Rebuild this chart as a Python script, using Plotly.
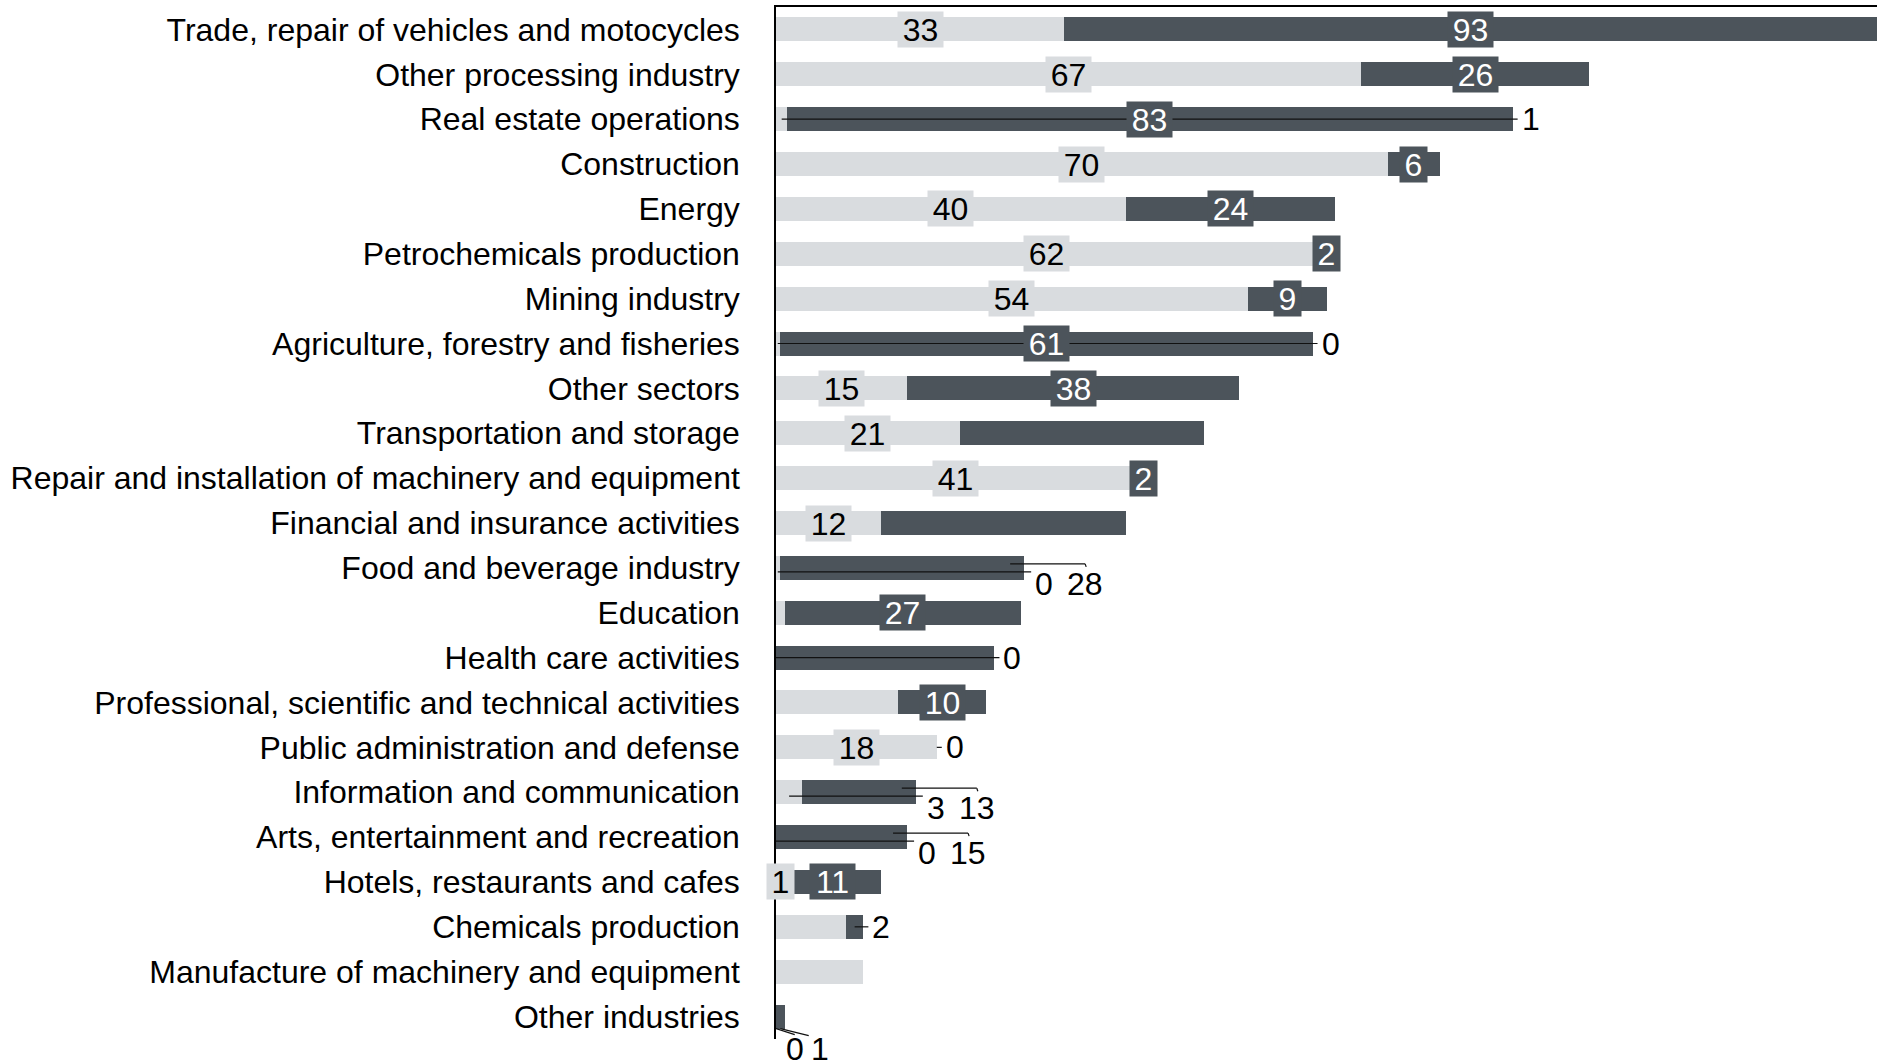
import plotly.graph_objects as go

# sectors, top to bottom
categories = [
    "Trade, repair of vehicles and motocycles",
    "Other processing industry",
    "Real estate operations",
    "Construction",
    "Energy",
    "Petrochemicals production",
    "Mining industry",
    "Agriculture, forestry and fisheries",
    "Other sectors",
    "Transportation and storage",
    "Repair and installation of machinery and equipment",
    "Financial and insurance activities",
    "Food and beverage industry",
    "Education",
    "Health care activities",
    "Professional, scientific and technical activities",
    "Public administration and defense",
    "Information and communication",
    "Arts, entertainment and recreation",
    "Hotels, restaurants and cafes",
    "Chemicals production",
    "Manufacture of machinery and equipment",
    "Other industries",
]
# light grey segment
light = [33, 67, 1.3, 70, 40, 62, 54, 0.4, 15, 21, 41, 12, 0.4, 1, 0, 14, 18.4, 3, 0, 1, 8, 10, 0]
# dark grey segment
dark = [93, 26, 83, 6, 24, 2, 9, 61, 38, 28, 2, 28, 28, 27, 25, 10, 0, 13, 15, 11, 2, 0, 1]

LIGHT = "#d9dcdf"
DARK = "#4c545b"
FONT = "Liberation Sans, Arial, sans-serif"
FS = 32

W, H = 1877, 1064
ML, MR, MT, MB = 776, 0, 7, 25
XMAX = 126
ux = XMAX / (W - ML - MR)              # x data units per pixel
uy = len(categories) / (H - MT - MB)   # category units per pixel

fig = go.Figure()
fig.add_trace(go.Bar(y=categories, x=light, orientation="h", width=0.535,
                     marker=dict(color=LIGHT, line_width=0), hoverinfo="x+y"))
fig.add_trace(go.Bar(y=categories, x=dark, orientation="h", width=0.535,
                     marker=dict(color=DARK, line_width=0), hoverinfo="x+y"))

# which labels go where
in_light = [0, 1, 3, 4, 5, 6, 8, 9, 10, 11, 16, 19]
in_dark = [0, 1, 2, 3, 4, 5, 6, 7, 8, 10, 13, 15, 19]
right_light = [2, 7, 14]
right_dark = [16, 20]
pair_below = [12, 17, 18]
pair_under = [22]


def fmt(v):
    return f"{v:.0f}"


def seg(x0, x1, i, dy0, dy1=None):
    if dy1 is None:
        dy1 = dy0
    fig.add_shape(type="line", xref="x", yref="y", x0=x0, x1=x1,
                  y0=i + dy0 * uy, y1=i + dy1 * uy,
                  line=dict(color="#111111", width=1.2))


def txt(x, i, text, xshift=0, yshift=0, xanchor="center"):
    fig.add_annotation(x=x, y=i, text=text, showarrow=False, xshift=xshift, yshift=yshift,
                       xanchor=xanchor, yanchor="middle",
                       font=dict(family=FONT, size=FS, color="#000000"))


# leader lines and outside labels
for i in right_light:
    t = light[i] + dark[i]
    seg(light[i] / 2, t + 5 * ux, i, 0)
    txt(t, i, fmt(light[i]), xshift=7, xanchor="left")

for i in right_dark:
    t = light[i] + dark[i]
    seg(light[i] + dark[i] / 2, t + 5 * ux, i, 0)
    txt(t, i, fmt(dark[i]), xshift=7, xanchor="left")

for i in pair_below:
    t = light[i] + dark[i]
    seg(light[i] / 2, t + 7 * ux, i, 4)
    txt(t, i, fmt(light[i]), xshift=9, yshift=-16, xanchor="left")
    seg(t - 14 * ux, t + 61 * ux, i, -4)
    seg(t + 61 * ux, t + 62 * ux, i, -4, -1)
    txt(t, i, fmt(dark[i]), xshift=61, yshift=-16)

for i in pair_under:
    t = light[i] + dark[i]
    seg(light[i] / 2, t + 10 * ux, i, 12, 18)
    seg(light[i] + dark[i] / 2, t + 24 * ux, i, 12, 19)
    txt(t, i, fmt(light[i]), xshift=10, yshift=-32)
    txt(t, i, fmt(dark[i]), xshift=35, yshift=-32)

# boxed labels inside the segments (drawn on top of the leader lines)
for i in in_light:
    s = fmt(light[i])
    fig.add_annotation(x=light[i] / 2, y=i, text=s, showarrow=False,
                       bgcolor=LIGHT, borderpad=0, width=len(s) * 18 + 9, height=35,
                       font=dict(family=FONT, size=FS, color="#000000"))
for i in in_dark:
    s = fmt(dark[i])
    fig.add_annotation(x=light[i] + dark[i] / 2, y=i, text=s, showarrow=False,
                       bgcolor=DARK, borderpad=0, width=len(s) * 18 + 9, height=35,
                       font=dict(family=FONT, size=FS, color="#ffffff"))

fig.update_layout(
    width=W, height=H,
    margin=dict(l=ML, r=MR, t=MT, b=MB, pad=0, autoexpand=False),
    barmode="stack",
    showlegend=False,
    paper_bgcolor="white",
    plot_bgcolor="white",
    font=dict(family=FONT, size=FS, color="#000000"),
)
fig.update_xaxes(range=[0, XMAX], side="top", showline=True, linecolor="#000000", linewidth=1.5,
                 showticklabels=False, ticks="", showgrid=False, zeroline=False, automargin=False)
fig.update_yaxes(categoryorder="array", categoryarray=categories, autorange="reversed",
                 showline=True, linecolor="#000000", linewidth=1.5, ticks="",
                 showgrid=False, zeroline=False, ticklabelstandoff=28, automargin=False,
                 tickfont=dict(family=FONT, size=FS, color="#000000"))

# drop the page's default body margin so the figure sits at the window's corner
fig.write_html("out.html", config={"displayModeBar": False},
               post_script="document.body.style.margin='0';")
